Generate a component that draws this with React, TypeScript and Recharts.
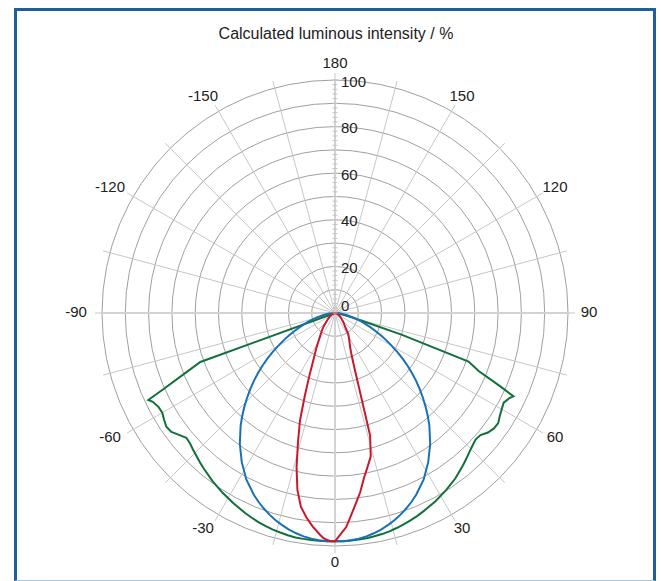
import React from 'react';
import { RadarChart, Radar, PolarGrid, PolarAngleAxis, PolarRadiusAxis } from 'recharts';

// Polar diagram geometry (px)
const CX = 335;
const CY = 313;
const OUTER_R = 233;
const LABEL_RX = 254;
const LABEL_RY = 249.5;

// Emission angle in degrees, 0 = straight down
const angles = [
    -90, -85, -80, -76, -74, -72, -70, -68, -66, -65, -64, -62, -60, -58, -56, -54, -52, -50, -48, -46,
    -44, -42, -40, -36, -32, -28, -24, -22, -20, -18, -16, -14, -12, -10, -8, -6, -4, -3, -2, -1,
    0,
    1, 2, 3, 4, 6, 8, 10, 12, 14, 16, 18, 20, 22, 24, 28, 32, 36, 40, 42, 44,
    46, 48, 50, 52, 54, 56, 58, 60, 62, 64, 65, 66, 68, 70, 72, 74, 76, 80, 85, 90,
];

// Relative luminous intensity in %
const narrowBeam = [
    0, 0, 0.3, 0.6, 0.8, 1, 1.2, 1.4, 1.6, 1.7, 1.8, 2, 2.2, 2.5, 2.8, 3.1, 3.4, 3.8, 4.3, 4.8,
    5.5, 6.5, 7.7, 9.8, 12.5, 17.1, 23.8, 29.8, 38, 48.7, 57.6, 68.2, 77.6, 84.4, 88.5, 92.1, 95.2, 96.7, 97.5, 98,
    98,
    95.9, 93.9, 92, 88.8, 82.9, 77.7, 71.8, 67.4, 63.4, 54.7, 32.4, 23.2, 18.6, 15.9, 13, 10.8, 7.5, 6, 5.4, 4.8,
    4.3, 3.8, 3.4, 3.1, 2.8, 2.5, 2.2, 2, 1.8, 1.6, 1.5, 1.4, 1.2, 1, 0.8, 0.6, 0.5, 0.3, 0, 0,
];

const mediumBeam = [
    0, 2.5, 5, 8, 10, 12, 14, 16.5, 19, 20.5, 22, 25, 28, 31.5, 35, 38.5, 42, 45.5, 49, 52.5,
    56, 59.5, 63, 69.5, 75.5, 81, 85.5, 87.5, 89.3, 91, 92.5, 93.8, 95, 96, 96.8, 97.4, 97.8, 97.9, 98, 98,
    98,
    98, 98, 97.9, 97.8, 97.4, 96.8, 96, 95, 93.8, 92.5, 91, 89.3, 87.5, 85.5, 81, 75.5, 69.5, 63, 59.5, 56,
    52.5, 49, 45.5, 42, 38.5, 35, 31.5, 28, 25, 22, 20.5, 19, 16.5, 14, 12, 10, 8, 5, 2.5, 0,
];

const wideBeam = [
    0, 0, 0, 0, 0, 0, 61.5, 70, 81, 88.4, 87, 85.8, 85.6, 86.5, 87.3, 86.8, 85, 83.3, 83.7, 84.6,
    85.5, 86.5, 87.4, 89.3, 91, 92.6, 94.2, 94.9, 95.6, 96.2, 96.7, 97.1, 97.5, 97.8, 97.9, 98, 98, 98, 98, 98,
    98,
    98, 98, 98, 97.9, 97.8, 97.6, 97.3, 97, 96.6, 96, 95.4, 94.7, 94, 93.2, 91.6, 89.8, 87.8, 85.4, 84.2, 83,
    82, 81.2, 81.5, 83.3, 84.3, 84.5, 83.4, 82.6, 82, 83.3, 84.5, 78, 66.5, 61, 30, 12, 6, 2.5, 0.5, 0,
];

const angleTicks = [
    -165, -150, -135, -120, -105, -90, -75, -60, -45, -30, -15, 0,
    15, 30, 45, 60, 75, 90, 105, 120, 135, 150, 165, 180,
];
const radiusTicks = Array.from({ length: 51 }, (_, i) => i * 2);
const ringValues = [10, 20, 30, 40, 50, 60, 70, 80, 90, 100];
const spokeAngles = [15, 30, 45, 60, 75, 105, 120, 135, 150, 165, 195, 210, 225, 240, 255, 285, 300, 315, 330, 345];

const chartData = angles.map((angle, i) => ({
    angle,
    narrow: narrowBeam[i],
    medium: mediumBeam[i],
    wide: wideBeam[i],
}));

const TEXT_COLOR = '#222222';

const AngleTick = ({ x, y, payload }: any) => {
    const v = payload.value;
    if (v % 30 !== 0) return <g />;
    const dx = x - CX;
    const dy = y - CY;
    const len = Math.hypot(dx, dy) || 1;
    // minus sign pushes negative labels a little further out
    const shift = v < 0 ? -5 : 0;
    return (
        <text
            x={CX + (dx / len) * LABEL_RX + shift}
            y={CY + (dy / len) * LABEL_RY - 1.5}
            textAnchor="middle"
            dominantBaseline="central"
            fontSize={15}
            fill={TEXT_COLOR}
        >
            {v}
        </text>
    );
};

const RadiusTick = ({ x, y, payload }: any) => {
    const v = payload.value;
    return (
        <g>
            <line x1={x - 2.5} x2={x + 2.5} y1={y} y2={y} stroke="#c4c4c4" strokeWidth={1} />
            {v % 20 === 0 && (
                <text
                    x={x + 6}
                    y={v === 0 ? y - 8 : y + 1}
                    textAnchor="start"
                    dominantBaseline="central"
                    fontSize={15}
                    fill={TEXT_COLOR}
                >
                    {v}
                </text>
            )}
        </g>
    );
};

export default function App() {
    return (
        <div
            style={{
                position: 'relative',
                width: 661,
                height: 581,
                background: '#ffffff',
                fontFamily: '"Liberation Sans", Arial, Helvetica, sans-serif',
                overflow: 'hidden',
            }}
        >
            <style>{`body { margin: 0; }`}</style>

            {/* frame */}
            <div
                style={{
                    position: 'absolute',
                    left: 14,
                    top: 8,
                    width: 642,
                    height: 573,
                    boxSizing: 'border-box',
                    borderLeft: '3px solid #1f5d9c',
                    borderTop: '3px solid #1f5d9c',
                    borderRight: '3px solid #1f5d9c',
                    borderBottom: '1px solid #a8c5e0',
                }}
            />

            <div
                style={{
                    position: 'absolute',
                    left: 0,
                    width: 672,
                    top: 25,
                    textAlign: 'center',
                    fontSize: 16,
                    lineHeight: '18px',
                    color: TEXT_COLOR,
                }}
            >
                Calculated luminous intensity / %
            </div>

            <div style={{ position: 'absolute', left: 0, top: 0 }}>
                <RadarChart
                    width={661}
                    height={581}
                    data={chartData}
                    cx={CX}
                    cy={CY}
                    outerRadius={OUTER_R}
                    startAngle={-270}
                    endAngle={90}
                    margin={{ top: 0, right: 0, bottom: 0, left: 0 }}
                >
                    {/* rings */}
                    <PolarGrid
                        gridType="circle"
                        radialLines={false}
                        polarAngles={[]}
                        polarRadius={ringValues.map(v => (v / 100) * OUTER_R)}
                        stroke="#a0a0a0"
                        strokeWidth={1}
                    />
                    {/* 15 degree spokes */}
                    <PolarGrid
                        gridType="circle"
                        polarAngles={spokeAngles}
                        polarRadius={[]}
                        stroke="#c6c6c6"
                        strokeWidth={1}
                    />
                    {/* main axes */}
                    <PolarGrid
                        gridType="circle"
                        polarAngles={[0, 90, 180, 270]}
                        polarRadius={[]}
                        stroke="#d2d2d2"
                        strokeWidth={2}
                    />
                    <PolarAngleAxis
                        dataKey="angle"
                        type="number"
                        domain={[-180, 180]}
                        ticks={angleTicks}
                        axisLine={false}
                        tickSize={7}
                        tickLine={{ stroke: '#c6c6c6' }}
                        tick={(props: any) => <AngleTick {...props} />}
                    />
                    <PolarRadiusAxis
                        angle={90}
                        type="number"
                        domain={[0, 100]}
                        ticks={radiusTicks}
                        tickCount={51}
                        axisLine={false}
                        tick={(props: any) => <RadiusTick {...props} />}
                    />
                    <Radar
                        dataKey="wide"
                        stroke="#12703a"
                        strokeWidth={2}
                        fill="none"
                        fillOpacity={0}
                        dot={false}
                        isAnimationActive={false}
                    />
                    <Radar
                        dataKey="medium"
                        stroke="#1a70b4"
                        strokeWidth={2}
                        fill="none"
                        fillOpacity={0}
                        dot={false}
                        isAnimationActive={false}
                    />
                    <Radar
                        dataKey="narrow"
                        stroke="#c8192b"
                        strokeWidth={2}
                        fill="none"
                        fillOpacity={0}
                        dot={false}
                        isAnimationActive={false}
                    />
                </RadarChart>
            </div>
        </div>
    );
}
